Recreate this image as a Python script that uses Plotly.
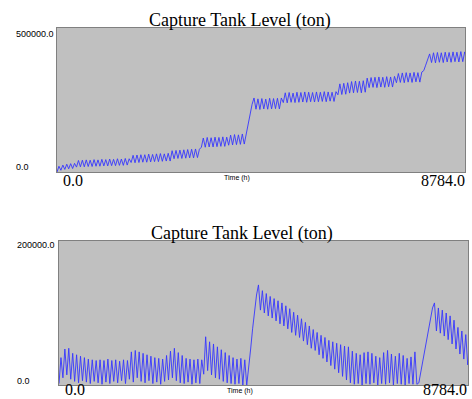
import plotly.graph_objects as go

W, H = 472, 399

# Sample times (h): one sample every 42 h, plus the end of the year
time_h = list(range(0, 8784, 42)) + [8784]

# Cumulative capture tank level (thousand tons)
cumulative_kt = [
    0, 20, 6, 24, 9, 27, 11, 29, 12, 30,
    17, 40, 18, 41, 18, 42, 19, 41, 19, 43, 20, 42, 20, 44, 21, 43, 21, 45, 22, 44,
    22, 46, 23, 45, 23, 47, 24, 46,
    33, 58, 32, 59, 33, 60, 34, 60, 34, 62, 35, 61, 36, 63, 36, 64, 37, 63, 38, 65, 38,
    74, 46, 75, 47, 76, 47, 77, 48, 78, 49, 79, 49, 80, 50, 79,
    86,
    118, 86, 120, 87, 119, 87, 121, 88, 120, 89, 122, 89, 121, 93, 128, 94, 130, 95, 129, 96, 132,
    97, 135, 170, 205, 235, 257,
    218, 254, 217, 255, 219, 253, 218, 256, 219, 255, 220, 256, 219, 257,
    241, 275, 240, 276, 242, 274, 241, 277, 242, 276, 243, 278, 242, 277, 244, 276, 243, 278,
    244, 277, 245, 279, 244, 278, 246, 277, 245, 279,
    268, 306, 269, 308, 270, 310, 274, 314, 275, 316, 276, 315, 275, 317, 277,
    326, 293, 328, 294, 329, 293, 330, 295, 329, 294, 331, 296, 330, 295, 332,
    310, 342, 311, 344, 310, 345, 312, 344, 311, 346, 313, 345, 312, 347,
    352, 371, 391, 410,
    380, 414, 379, 415, 381, 414, 380, 416, 382, 415, 381, 417, 383, 416, 382, 418, 383, 417, 412,
]

# Net capture tank level (thousand tons)
net_kt = [
    2, 38, 10, 50, 14, 51, 8, 44, 5, 42,
    3, 40, 6, 38, 4, 36, 2, 35, 5, 34,
    3, 35, 1, 34, 4, 36, 2, 34, 5, 35,
    3, 33, 6, 35, 2, 34, 8, 46, 4, 48,
    10, 46, 5, 44, 3, 42, 6, 40, 2, 38,
    4, 37, 1, 36, 5, 41, 7, 47, 10, 51,
    6, 45, 3, 41, 2, 37, 4, 36, 1, 35,
    3, 36, 2, 35,
    15, 67, 20, 60, 14, 57, 10, 53, 8, 49, 5, 45, 3, 41, 2, 38, 1, 36, 2, 37, 0, 35,
    0, 22, 50, 78, 104, 125,
    139, 104, 131, 100, 127, 96, 123, 93, 120, 89, 117, 85, 114, 82, 110, 78, 106, 73,
    101, 69, 97, 66, 92, 61, 87, 56, 82, 51, 77, 48, 73, 42, 69, 37, 66, 32, 62, 27,
    60, 22, 58, 17, 56, 12, 54, 7, 53,
    3, 47, 1, 44, 2, 42, 0, 45, 2, 46, 1, 44, 3, 40, 0, 38, 2, 45, 1, 48, 3, 43,
    0, 40, 2, 44, 1, 41, 0, 37, 2, 39, 1, 46, 1, 3,
    18, 34, 50, 66, 82, 96, 107,
    114, 75, 107, 72, 104, 68, 100, 63, 96, 57, 90, 50, 80, 43, 75, 36, 70, 28, 32,
]

title_text = "Capture Tank Level (ton)"
x_tick_text = ["0.0", "8784.0"]
top_y_tick_text = ["0.0", "500000.0"]
bottom_y_tick_text = ["0.0", "200000.0"]
x_title = "Time (h)"


def px(x):
    return x / W


def py(y):
    return 1 - y / H


line_style = dict(color="#3535ff", width=0.9)

fig = go.Figure()
fig.add_trace(go.Scatter(x=time_h, y=[v * 1000 for v in cumulative_kt], mode="lines",
                         line=line_style, xaxis="x", yaxis="y", hoverinfo="skip"))
fig.add_trace(go.Scatter(x=time_h, y=[v * 1000 for v in net_kt], mode="lines",
                         line=line_style, xaxis="x2", yaxis="y2", hoverinfo="skip"))

axis_common = dict(showline=True, mirror=True, linecolor="#808080", linewidth=1,
                   showgrid=False, zeroline=False, showticklabels=False, ticks="",
                   fixedrange=True)

fig.update_layout(
    width=W, height=H,
    margin=dict(l=0, r=0, t=0, b=0),
    paper_bgcolor="white",
    plot_bgcolor="#c0c0c0",
    showlegend=False,
    xaxis=dict(domain=[px(57), px(465)], range=[0, 8784], anchor="y", **axis_common),
    yaxis=dict(domain=[py(172), py(28)], range=[0, 500000], anchor="x", **axis_common),
    xaxis2=dict(domain=[px(59), px(468)], range=[0, 8784], anchor="y2", **axis_common),
    yaxis2=dict(domain=[py(385), py(241)], range=[0, 200000], anchor="x2", **axis_common),
)

serif = "Liberation Serif, Times New Roman, serif"
sans = "Liberation Sans, Arial, sans-serif"


def label(text, x, y, size, family, xanchor="center"):
    fig.add_annotation(text=text, x=px(x), y=py(y), xref="paper", yref="paper",
                       xanchor=xanchor, yanchor="middle", showarrow=False, borderpad=0,
                       font=dict(family=family, size=size, color="black"))


# Upper panel text
label(title_text, 240, 20, 18, serif)
label(top_y_tick_text[1], 15, 34.5, 9, sans, "left")
label(top_y_tick_text[0], 15, 166.5, 9, sans, "left")
label(x_tick_text[0], 62, 181, 16, serif, "left")
label(x_tick_text[1], 466, 181, 16, serif, "right")
label(x_title, 237, 177.5, 7, sans)

# Lower panel text
label(title_text, 241.5, 233, 18, serif)
label(bottom_y_tick_text[1], 16, 245, 9, sans, "left")
label(bottom_y_tick_text[0], 16, 381, 9, sans, "left")
label(x_tick_text[0], 64, 389.5, 16, serif, "left")
label(x_tick_text[1], 468, 389.5, 16, serif, "right")
label(x_title, 240, 391, 7, sans)

fig.write_html("out.html")
